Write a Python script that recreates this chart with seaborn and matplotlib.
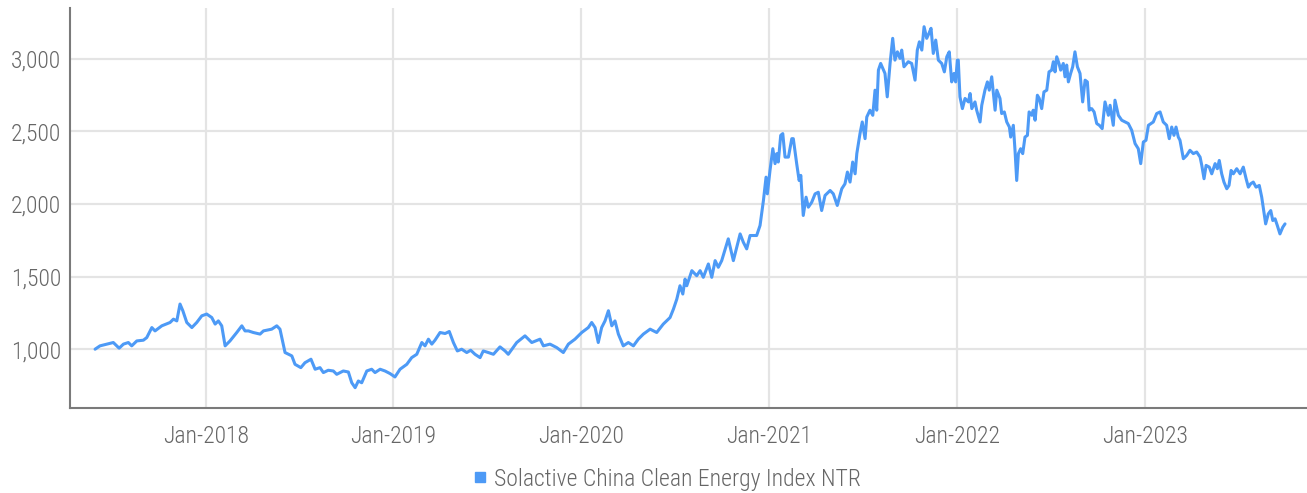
import numpy as np
import pandas as pd
import matplotlib
matplotlib.use("Agg")
import matplotlib.pyplot as plt
import matplotlib.dates as mdates
from matplotlib import font_manager
from matplotlib.lines import Line2D
import seaborn as sns

# index level, x as decimal year
YEARS = [2017.411, 2017.437, 2017.473, 2017.508, 2017.539, 2017.562, 2017.588, 2017.606,
         2017.633, 2017.668, 2017.686, 2017.713, 2017.730, 2017.766, 2017.810, 2017.828,
         2017.846, 2017.863, 2017.878, 2017.899, 2017.926, 2017.952, 2017.979, 2018.005,
         2018.032, 2018.050, 2018.067, 2018.085, 2018.103, 2018.129, 2018.165, 2018.192,
         2018.209, 2018.227, 2018.253, 2018.289, 2018.307, 2018.351, 2018.378, 2018.395,
         2018.422, 2018.458, 2018.475, 2018.506, 2018.528, 2018.560, 2018.582, 2018.608,
         2018.626, 2018.652, 2018.679, 2018.697, 2018.732, 2018.759, 2018.777, 2018.795,
         2018.812, 2018.830, 2018.857, 2018.883, 2018.901, 2018.928, 2018.954, 2018.981,
         2019.007, 2019.034, 2019.070, 2019.096, 2019.123, 2019.150, 2019.167, 2019.185,
         2019.203, 2019.220, 2019.247, 2019.274, 2019.296, 2019.318, 2019.339, 2019.362,
         2019.389, 2019.410, 2019.433, 2019.460, 2019.477, 2019.504, 2019.531, 2019.566,
         2019.593, 2019.610, 2019.655, 2019.699, 2019.735, 2019.779, 2019.797, 2019.832,
         2019.868, 2019.903, 2019.930, 2019.965, 2020.001, 2020.036, 2020.054, 2020.072,
         2020.089, 2020.107, 2020.125, 2020.143, 2020.161, 2020.178, 2020.196, 2020.222,
         2020.249, 2020.276, 2020.302, 2020.329, 2020.365, 2020.400, 2020.435, 2020.471,
         2020.489, 2020.507, 2020.524, 2020.539, 2020.551, 2020.560, 2020.587, 2020.613,
         2020.631, 2020.648, 2020.675, 2020.693, 2020.711, 2020.728, 2020.746, 2020.781,
         2020.808, 2020.844, 2020.861, 2020.879, 2020.897, 2020.932, 2020.950, 2020.968,
         2020.982, 2020.989, 2021.003, 2021.018, 2021.030, 2021.039, 2021.047, 2021.060,
         2021.071, 2021.083, 2021.101, 2021.119, 2021.127, 2021.145, 2021.158, 2021.167,
         2021.180, 2021.195, 2021.207, 2021.225, 2021.243, 2021.260, 2021.278, 2021.296,
         2021.323, 2021.340, 2021.361, 2021.385, 2021.402, 2021.415, 2021.429, 2021.443,
         2021.456, 2021.465, 2021.482, 2021.494, 2021.509, 2021.518, 2021.535, 2021.550,
         2021.562, 2021.571, 2021.580, 2021.592, 2021.615, 2021.627, 2021.642, 2021.656,
         2021.668, 2021.681, 2021.695, 2021.704, 2021.716, 2021.739, 2021.757, 2021.775,
         2021.787, 2021.798, 2021.811, 2021.823, 2021.837, 2021.849, 2021.860, 2021.872,
         2021.885, 2021.899, 2021.917, 2021.931, 2021.944, 2021.957, 2021.970, 2021.982,
         2021.991, 2022.000, 2022.005, 2022.014, 2022.027, 2022.041, 2022.059, 2022.068,
         2022.077, 2022.094, 2022.103, 2022.121, 2022.130, 2022.147, 2022.160, 2022.170,
         2022.183, 2022.192, 2022.201, 2022.210, 2022.227, 2022.236, 2022.250, 2022.263,
         2022.277, 2022.284, 2022.298, 2022.307, 2022.316, 2022.325, 2022.337, 2022.348,
         2022.360, 2022.373, 2022.382, 2022.396, 2022.404, 2022.414, 2022.426, 2022.436,
         2022.449, 2022.461, 2022.476, 2022.488, 2022.502, 2022.511, 2022.520, 2022.529,
         2022.541, 2022.550, 2022.564, 2022.573, 2022.582, 2022.591, 2022.603, 2022.614,
         2022.626, 2022.639, 2022.653, 2022.667, 2022.680, 2022.692, 2022.702, 2022.715,
         2022.728, 2022.742, 2022.756, 2022.771, 2022.786, 2022.804, 2022.813, 2022.830,
         2022.839, 2022.857, 2022.875, 2022.893, 2022.910, 2022.928, 2022.946, 2022.963,
         2022.976, 2022.990, 2023.004, 2023.017, 2023.043, 2023.061, 2023.079, 2023.096,
         2023.114, 2023.128, 2023.141, 2023.153, 2023.164, 2023.176, 2023.185, 2023.203,
         2023.221, 2023.238, 2023.256, 2023.274, 2023.292, 2023.301, 2023.313, 2023.324,
         2023.341, 2023.354, 2023.372, 2023.384, 2023.394, 2023.407, 2023.419, 2023.434,
         2023.446, 2023.457, 2023.469, 2023.487, 2023.505, 2023.522, 2023.537, 2023.549,
         2023.561, 2023.575, 2023.590, 2023.607, 2023.620, 2023.632, 2023.641, 2023.655,
         2023.668, 2023.679, 2023.691, 2023.703, 2023.717, 2023.732, 2023.744]

VALUES = [1000, 1023, 1035, 1046, 1007, 1035, 1046, 1023,
          1057, 1062, 1080, 1149, 1126, 1161, 1184, 1207,
          1195, 1311, 1265, 1184, 1149, 1184, 1230, 1242,
          1218, 1173, 1195, 1161, 1023, 1057, 1115, 1161,
          1126, 1126, 1115, 1104, 1126, 1138, 1161, 1138,
          977, 954, 896, 873, 907, 931, 862, 873,
          839, 855, 850, 827, 850, 843, 769, 735,
          781, 769, 850, 862, 839, 862, 850, 832,
          809, 862, 896, 942, 965, 1046, 1023, 1069,
          1035, 1062, 1115, 1108, 1122, 1046, 988, 1000,
          977, 993, 965, 942, 988, 977, 965, 1016,
          988, 965, 1046, 1092, 1046, 1069, 1023, 1035,
          1011, 977, 1035, 1069, 1115, 1149, 1184, 1149,
          1046, 1149, 1195, 1265, 1161, 1195, 1104, 1023,
          1046, 1023, 1069, 1104, 1138, 1115, 1173, 1218,
          1276, 1345, 1437, 1380, 1483, 1437, 1541, 1506,
          1541, 1495, 1587, 1495, 1610, 1564, 1610, 1760,
          1610, 1794, 1737, 1691, 1783, 1783, 1852, 2024,
          2185, 2070, 2231, 2381, 2278, 2347, 2289, 2473,
          2485, 2323, 2323, 2450, 2450, 2278, 2162, 2197,
          1921, 2047, 1978, 2012, 2070, 2081, 1955, 2059,
          2093, 2070, 1990, 2105, 2139, 2220, 2151, 2289,
          2208, 2347, 2485, 2565, 2450, 2599, 2646, 2611,
          2784, 2646, 2922, 2968, 2899, 2738, 2968, 3141,
          2991, 3048, 3003, 3060, 2945, 2980, 2968, 2853,
          3060, 3117, 3060, 3221, 3141, 3175, 3210, 3037,
          3129, 2991, 2968, 2910, 3014, 3048, 2841, 2899,
          2841, 2991, 2991, 2738, 2657, 2727, 2703, 2761,
          2657, 2703, 2646, 2565, 2680, 2784, 2841, 2784,
          2876, 2761, 2646, 2784, 2727, 2623, 2634, 2565,
          2530, 2461, 2542, 2370, 2162, 2347, 2381, 2347,
          2461, 2473, 2634, 2611, 2646, 2577, 2749, 2727,
          2657, 2772, 2784, 2910, 2922, 2980, 2910, 3014,
          2968, 2922, 2968, 2876, 2957, 2841, 2899, 2945,
          3048, 2945, 2899, 2703, 2853, 2841, 2646, 2657,
          2634, 2554, 2542, 2519, 2703, 2611, 2680, 2542,
          2715, 2611, 2577, 2565, 2554, 2508, 2416, 2381,
          2278, 2427, 2439, 2542, 2565, 2623, 2634, 2565,
          2542, 2450, 2530, 2473, 2530, 2461, 2439, 2312,
          2335, 2370, 2347, 2358, 2323, 2266, 2174, 2266,
          2254, 2208, 2278, 2243, 2300, 2208, 2151, 2105,
          2128, 2231, 2208, 2243, 2208, 2254, 2174, 2116,
          2139, 2151, 2116, 2128, 2047, 1943, 1863, 1932,
          1955, 1886, 1898, 1852, 1794, 1840, 1863]

SERIES = "Solactive China Clean Energy Index NTR"
Y_TICKS = [1000, 1500, 2000, 2500, 3000]
TICK_YEARS = [2018, 2019, 2020, 2021, 2022, 2023]

LINE_COLOR = "#4d9af6"
TEXT_COLOR = "#666666"


def to_date(yr):
    yr = np.asarray(yr, dtype=float)
    return pd.Timestamp("2017-01-01") + pd.to_timedelta((yr - 2017) * 365.25, unit="D")


df = pd.DataFrame({"date": to_date(YEARS), "value": VALUES})

sns.set_theme(style="white")
installed = {f.name for f in font_manager.fontManager.ttflist}
font = "DejaVu Sans"
size = 12
for fam, sz in [("Roboto Condensed", 17), ("Liberation Sans Narrow", 17), ("Roboto", 14)]:
    if fam in installed:
        font, size = fam, sz
        break
plt.rcParams["font.family"] = [font, "DejaVu Sans"]

fig = plt.figure(figsize=(13.07, 4.93), dpi=100)
ax = fig.add_axes([0.0532, 0.1724, 0.9468, 0.8114])

sns.lineplot(data=df, x="date", y="value", ax=ax, color=LINE_COLOR, linewidth=2.2, legend=False)

ax.set_xlim(to_date(2017.275), to_date(2023.861))
ax.set_ylim(595, 3350)
ax.set_yticks(Y_TICKS)
ax.yaxis.set_major_formatter(plt.FuncFormatter(lambda v, p: f"{v:,.0f}"))
ax.set_xticks([pd.Timestamp(f"{y}-01-01") for y in TICK_YEARS])
ax.xaxis.set_major_formatter(mdates.DateFormatter("%b-%Y"))
ax.set_xlabel("")
ax.set_ylabel("")

ax.grid(True, color="#e4e4e4", linewidth=1.6)
ax.set_axisbelow(True)
for side in ["top", "right"]:
    ax.spines[side].set_visible(False)
for side in ["left", "bottom"]:
    ax.spines[side].set_color("#7a7a7a")
    ax.spines[side].set_linewidth(1.5)

ax.tick_params(axis="both", length=0, colors=TEXT_COLOR, labelsize=size)
ax.tick_params(axis="y", pad=6)
ax.tick_params(axis="x", pad=12)
for lab in ax.get_xticklabels() + ax.get_yticklabels():
    lab.set_fontweight("light")

handle = Line2D([], [], marker="s", linestyle="none", color=LINE_COLOR, markersize=7.5)
leg = fig.legend([handle], [SERIES], loc="center", bbox_to_anchor=(0.51, 0.028),
                 frameon=False, handlelength=0.6, handletextpad=0.3,
                 prop={"size": size, "weight": "light"})
for t in leg.get_texts():
    t.set_color(TEXT_COLOR)

fig.savefig("out.png", dpi=100)
